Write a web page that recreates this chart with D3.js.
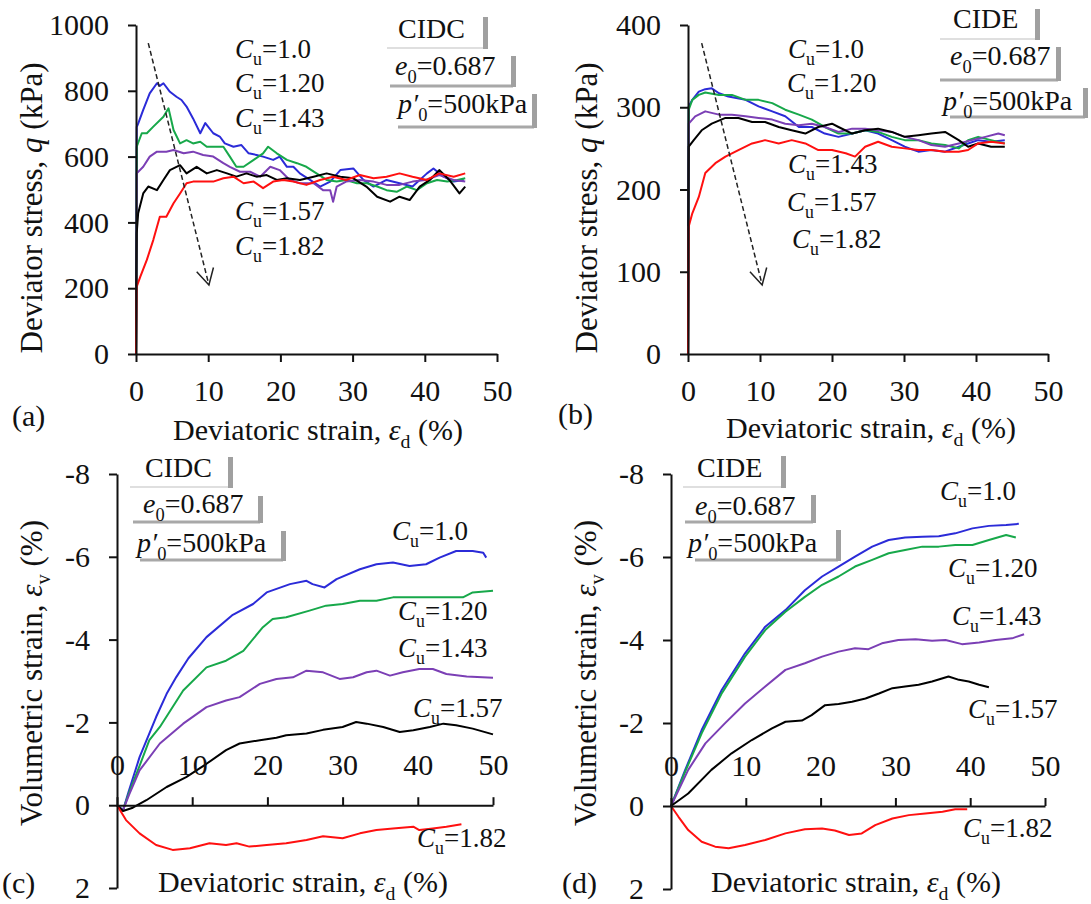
<!DOCTYPE html>
<html><head><meta charset="utf-8">
<script src="https://cdn.jsdelivr.net/npm/d3@7"></script>
<style>
body{margin:0;background:#fff}
svg{display:block}
</style>
</head><body>
<svg id="chart" width="1091" height="904" font-family="Liberation Serif, Times New Roman, DejaVu Serif, serif"></svg>
<script>
// ---------- DATA ----------
const seriesLabels = ["1.0","1.20","1.43","1.57","1.82"];
const seriesColors = ["#2b2bd8","#17a84a","#7b3fb5","#000000","#ff1010"];

// (a) CIDC deviator stress q (kPa) vs deviatoric strain (%)
const aCu100 = [[0,0],[0.05,400],[0.1,690],[0.3,700],[1,742],[1.9,792],[2.9,823],[3.3,815],[3.8,823],[4.7,797],[5.6,782],[6.3,772],[7,752],[7.9,716],[8.9,671],[9.6,702],[10.7,671],[11.6,661],[12.3,640],[13.5,630],[14.6,635],[15.6,610],[16.7,605],[17.6,600],[19,590],[19.9,600],[20.9,569],[21.8,569],[22.7,549],[24.1,529],[25.5,509],[26.9,524],[28.3,559],[30.1,564],[31.5,529],[32.9,509],[34.7,529],[36.5,519],[38.3,509],[40.3,549],[41.2,564],[42.6,539],[44,524],[45.4,529]];
const aCu120 = [[0,0],[0.05,350],[0.1,630],[0.8,671],[1.5,671],[2.4,691],[3.8,721],[4.5,747],[5.2,681],[6.1,640],[7,650],[7.9,640],[8.9,645],[9.8,630],[11.2,630],[12.1,630],[13,600],[13.9,569],[14.9,569],[16.3,590],[17.6,610],[18.3,630],[19.5,610],[20.9,590],[22.3,580],[23.6,569],[25,549],[26.4,529],[27.8,524],[29.1,529],[30.6,519],[32,519],[33.4,509],[34.7,498],[36.1,493],[37.5,509],[38.9,498],[40.3,519],[41.7,529],[43.1,524],[44.5,529],[45.6,534]];
const aCu143 = [[0,0],[0.05,300],[0.1,549],[1,569],[1.9,600],[2.9,615],[4.2,615],[5.2,620],[6.6,610],[7.9,615],[9.3,605],[10.7,600],[12.1,580],[13,569],[14.4,554],[15.8,554],[17.2,539],[18.6,569],[19.9,559],[21.3,529],[22.7,519],[24.6,519],[25.9,498],[26.9,498],[27.3,463],[27.8,509],[29.1,524],[31,529],[32.9,524],[34.7,514],[36.5,514],[38.3,524],[40.1,529],[42,544],[44,529],[45.6,524]];
const aCu157 = [[0,0],[0.05,250],[0.1,367],[0.3,428],[1,488],[1.7,509],[2.9,498],[3.8,529],[4.7,559],[6.1,574],[7,549],[8.4,569],[9.8,549],[11.2,559],[12.6,549],[13.9,539],[15.3,549],[16.7,539],[18.1,544],[19.5,529],[20.9,534],[22.7,529],[24.6,539],[26.4,549],[28.3,539],[30.1,534],[31.9,509],[33.4,478],[35.2,463],[36.5,478],[37.9,468],[39.3,509],[40.7,529],[42,559],[43.4,529],[44.8,488],[45.6,509]];
const aCu182 = [[0,0],[0.1,205],[0.6,235],[1.5,286],[2.4,347],[3.3,417],[4.2,417],[5.2,458],[6.1,488],[7,519],[7.9,524],[9.3,524],[10.7,524],[12.1,534],[13.5,539],[14.9,519],[16.3,524],[17.6,504],[19,524],[20.4,529],[21.8,524],[23.6,514],[25.5,529],[27.3,539],[29.1,529],[31,544],[32.9,534],[34.7,539],[36.5,549],[38.3,539],[40.3,529],[42,549],[44,539],[45.6,549]];

// (b) CIDE deviator stress
const bCu100 = [[0,0],[0.05,200],[0.1,301],[0.6,309],[1.5,319],[2.4,322],[3.3,323],[4.3,317],[5.6,313],[8,309],[9.8,301],[11.7,295],[13.5,289],[15.4,276],[17.2,276],[19,268],[20.9,264],[22.8,268],[24.6,272],[26.4,268],[28.3,260],[30.1,252],[32,246],[33.8,248],[35.7,246],[37.6,252],[38.9,256],[40.3,260],[42.1,258],[44,260]];
const bCu120 = [[0,0],[0.05,200],[0.1,297],[0.6,309],[1.5,315],[2.4,318],[4.3,315],[6.1,315],[8,309],[9.8,309],[11.7,305],[13.5,297],[15.4,291],[17.2,285],[19,276],[20.9,268],[22.8,268],[24.6,272],[26.4,270],[28.3,264],[30.1,260],[32,260],[33.8,256],[35.7,254],[37.6,250],[38.9,260],[40.3,264],[42.1,260],[44,256]];
const bCu143 = [[0,0],[0.05,190],[0.1,280],[1,289],[2.4,295],[4.3,291],[6.1,291],[8,289],[9.8,287],[11.7,285],[13.5,280],[15.4,278],[17.2,280],[19,276],[20.9,270],[22.8,274],[24.6,274],[26.4,272],[28.3,270],[30.1,264],[32,260],[33.8,254],[35.7,252],[37.6,256],[39.4,260],[41.3,264],[43.1,268],[44,266]];
const bCu157 = [[0,0],[0.05,170],[0.1,252],[0.8,260],[1.9,272],[3.3,280],[5.2,287],[7,287],[8.9,282],[10.7,282],[12.6,276],[14.4,272],[16.3,268],[18.1,276],[20,280],[20.9,276],[22.8,268],[24.6,272],[26.4,274],[28.3,270],[30.1,264],[32,266],[33.8,268],[35.7,270],[37.6,260],[38.9,252],[40.3,256],[42.1,252],[44,252]];
const bCu182 = [[0,0],[0.1,155],[0.6,171],[1.5,191],[2.4,220],[3.8,232],[5.2,240],[7,248],[8.9,256],[10.7,260],[12.6,256],[14.4,260],[16.3,256],[18.1,248],[20,248],[21.9,244],[23.2,240],[24.6,252],[26.4,258],[28.3,252],[30.1,250],[32,248],[33.8,248],[35.7,246],[37.6,246],[38.9,248],[40.3,256],[42.1,258],[44,256]];

// (c) CIDC volumetric strain (%)
const cCu100 = [[0,0],[0.8,0.12],[1.5,-0.3],[3,-1.16],[5.2,-2.13],[6.6,-2.69],[7.9,-3.1],[9.5,-3.55],[11.9,-4.06],[15.4,-4.6],[18.1,-4.86],[19.9,-5.14],[23,-5.34],[25.2,-5.42],[26,-5.34],[27.6,-5.26],[29.2,-5.46],[32.3,-5.7],[34.5,-5.82],[36.7,-5.86],[38.9,-5.78],[41.1,-5.82],[42.9,-5.98],[45.1,-6.14],[47.3,-6.14],[48.7,-6.1],[49.1,-5.98]];
const cCu120 = [[0,0],[0.8,0.12],[1.6,-0.3],[3,-0.95],[4.3,-1.57],[5.7,-1.89],[8.8,-2.77],[11.9,-3.33],[14.5,-3.49],[16.8,-3.73],[19.4,-4.3],[20.7,-4.5],[22.5,-4.54],[25.6,-4.7],[27.8,-4.82],[30,-4.86],[32.3,-4.94],[34.5,-4.94],[36.7,-5.02],[38.9,-5.02],[41.1,-5.02],[43.4,-5.02],[46,-5.02],[47.3,-5.14],[50,-5.18]];
const cCu143 = [[0,0],[0.8,0.12],[1.6,-0.25],[3,-0.84],[5.7,-1.49],[8.8,-1.97],[11.9,-2.37],[14.5,-2.53],[16.3,-2.61],[19,-2.93],[21.2,-3.05],[23.4,-3.09],[25.2,-3.25],[27.4,-3.21],[29.6,-3.05],[31.4,-3.09],[33.2,-3.21],[34.5,-3.25],[36.3,-3.13],[38,-3.21],[40.2,-3.29],[42,-3.29],[43.8,-3.17],[46.5,-3.11],[50,-3.08]];
const cCu157 = [[0,0],[0.8,0.14],[2.1,0.06],[3.9,-0.12],[6.6,-0.44],[9.2,-0.68],[11.9,-1],[14.5,-1.33],[16.3,-1.49],[19,-1.57],[21.2,-1.63],[22.5,-1.69],[25.2,-1.73],[27.4,-1.82],[30,-1.89],[31.8,-2.01],[33.2,-1.97],[35.4,-1.89],[37.6,-1.77],[39.4,-1.81],[41.6,-1.89],[43.4,-1.97],[45.1,-1.93],[47.3,-1.85],[50,-1.71]];
const cCu182 = [[0,0],[1.2,0.36],[3,0.68],[5.2,0.96],[7.4,1.08],[9.7,1.04],[12.3,0.92],[14.5,0.96],[15.9,0.92],[17.6,1],[19.9,0.96],[22.5,0.92],[25.2,0.84],[27.4,0.75],[30,0.8],[32.3,0.68],[34.5,0.6],[36.7,0.56],[39.4,0.52],[40.2,0.6],[42,0.56],[43.8,0.52],[45.8,0.46]];

// (d) CIDE volumetric strain (%)
const dCu100 = [[0,0],[1.9,-0.87],[4.1,-1.83],[6.8,-2.8],[9.9,-3.68],[12.6,-4.32],[15.3,-4.72],[17.9,-5.2],[20.2,-5.53],[22.4,-5.77],[24.6,-6.01],[26.9,-6.25],[29.1,-6.41],[31.3,-6.47],[33.6,-6.49],[35.8,-6.5],[38,-6.57],[40.3,-6.69],[42.5,-6.75],[44.8,-6.77],[46.5,-6.8]];
const dCu120 = [[0,0],[1.9,-0.83],[4.1,-1.75],[6.8,-2.72],[9.9,-3.6],[12.6,-4.24],[15.3,-4.68],[17.9,-5.04],[20.2,-5.33],[22.4,-5.53],[24.6,-5.77],[26.9,-5.93],[29.1,-6.09],[31.3,-6.17],[33.6,-6.25],[35.8,-6.25],[38,-6.29],[40.3,-6.29],[42.5,-6.41],[44.8,-6.53],[46.1,-6.47]];
const dCu143 = [[0,0],[2.3,-0.87],[4.6,-1.51],[7.2,-1.99],[9.9,-2.47],[12.6,-2.88],[15.3,-3.28],[17.9,-3.44],[20.2,-3.6],[22.4,-3.72],[24.6,-3.8],[26.4,-3.78],[28.2,-3.92],[30.4,-4],[32.7,-4.02],[34.9,-3.98],[36.7,-4],[38.9,-3.9],[41.2,-3.94],[43.4,-4],[45.6,-4.04],[47.2,-4.14]];
const dCu157 = [[0,0],[2.3,-0.3],[5.4,-0.87],[8.1,-1.27],[10.8,-1.59],[13.5,-1.87],[15.3,-2.03],[17.5,-2.06],[18.8,-2.19],[20.6,-2.43],[22.4,-2.46],[24.2,-2.51],[26,-2.59],[27.8,-2.71],[29.6,-2.84],[31.3,-2.88],[33.1,-2.92],[34.9,-3],[37.1,-3.12],[38.5,-3.04],[39.8,-3],[41.2,-2.92],[42.5,-2.86]];
const dCu182 = [[0,0],[1,0.26],[2.3,0.58],[4.1,0.86],[5.9,0.98],[7.7,1.02],[9.9,0.94],[12.6,0.82],[15.3,0.66],[17.9,0.56],[20.2,0.54],[21.9,0.59],[23.8,0.7],[25.5,0.66],[27.3,0.46],[29.6,0.3],[31.8,0.22],[34,0.18],[36.3,0.14],[38,0.08],[39.6,0.08]];

// tick values
const xTicks = [0,10,20,30,40,50];
const qTicksA = [0,200,400,600,800,1000];
const qTicksB = [0,100,200,300,400];
const evTicks = [-8,-6,-4,-2,0,2];
// arrows (data coords: from -> to)
const arrowA = [[1.7,945],[10.1,210]];
const arrowB = [[1.9,378],[10.3,84]];

// ---------- DRAW ----------
const FONT = "Liberation Serif, Times New Roman, DejaVu Serif, serif";
const svg = d3.select("#chart");
const FS = 30;      // ticks, x titles
const FS_YT = 31;   // y titles
const FS_CU = 27;   // C_u labels
const FS_BOX = 28;  // info boxes

function T(sel) { return sel.append("text").attr("font-family", FONT).attr("fill", "#111"); }
function rich(sel, parts, fs) {
  let shift = 0;
  parts.forEach(p => {
    const ts = sel.append("tspan").text(p.t);
    if (p.i) ts.attr("font-style","italic");
    const want = p.s ? fs*0.27 : 0;
    if (want !== shift) { ts.attr("dy", want - shift); shift = want; }
    if (p.s) ts.attr("font-size", fs*0.66);
  });
}
function cuLabel(x, y, val) {
  const t = T(svg).attr("x",x).attr("y",y).attr("font-size",FS_CU);
  rich(t, [{t:"C",i:true},{t:"u",s:true},{t:"="+val}], FS_CU);
}
function infoBoxes(items) {
  items.forEach(b => {
    svg.append("line").attr("x1",b.bl).attr("x2",b.r).attr("y1",b.bot).attr("y2",b.bot)
      .attr("stroke", b.light ? "#d4d4d4" : "#a8a8a8").attr("stroke-width", b.light ? 1.5 : 3);
    svg.append("rect").attr("x",b.r-2).attr("y",b.top).attr("width",5).attr("height",b.bot-b.top+1)
      .attr("fill","#a0a0a0");
    const t = T(svg).attr("x",b.tx).attr("y",b.ty).attr("font-size",FS_BOX);
    rich(t, b.parts, FS_BOX);
  });
}
function boxesAt(kind, pos) {
  return [
    {parts:[{t:kind}], tx:pos[0][0], ty:pos[0][1], bl:pos[0][2], r:pos[0][3], top:pos[0][4], bot:pos[0][5], light:true},
    {parts:[{t:"e",i:true},{t:"0",s:true},{t:"=0.687"}], tx:pos[1][0], ty:pos[1][1], bl:pos[1][2], r:pos[1][3], top:pos[1][4], bot:pos[1][5]},
    {parts:[{t:"p′",i:true},{t:"0",s:true},{t:"=500kPa"}], tx:pos[2][0], ty:pos[2][1], bl:pos[2][2], r:pos[2][3], top:pos[2][4], bot:pos[2][5]}
  ];
}

function panel(cfg) {
  const x = d3.scaleLinear().domain([0,50]).range(cfg.xr);
  const y = d3.scaleLinear().domain(cfg.yd).range(cfg.yr);
  const g = svg.append("g");
  const line = d3.line().x(d => x(d[0])).y(d => y(d[1]));
  cfg.series.forEach((s,i) => {
    g.append("path").datum(s).attr("d", line).attr("fill","none")
      .attr("stroke", seriesColors[i]).attr("stroke-width", 2).attr("stroke-linejoin","round");
  });
  const ya = g.append("g").attr("transform",`translate(${cfg.xr[0]},0)`)
    .call(d3.axisLeft(y).tickValues(cfg.yt).tickSize(8).tickSizeOuter(0).tickPadding(19).tickFormat(d => d < 0 ? "-" + Math.abs(d) : String(d)));
  let xa;
  if (cfg.vol) {
    xa = g.append("g").attr("transform",`translate(0,${y(0)})`)
      .call(d3.axisTop(x).tickValues(xTicks).tickSize(8).tickSizeOuter(0).tickPadding(22));
  } else {
    xa = g.append("g").attr("transform",`translate(0,${cfg.yr[0]})`)
      .call(d3.axisBottom(x).tickValues(xTicks).tickSize(8).tickSizeOuter(0).tickPadding(18));
  }
  [ya, xa].forEach(a => {
    a.attr("font-family", FONT).attr("font-size", FS);
    a.selectAll("path,line").attr("stroke","#111").attr("stroke-width",2);
    a.selectAll("text").attr("font-size",FS).attr("fill","#111").attr("font-family", FONT);
  });
  if (cfg.arrow) {
    const [p0,p1] = cfg.arrow.map(p => [x(p[0]), y(p[1])]);
    g.append("line").attr("x1",p0[0]).attr("y1",p0[1]).attr("x2",p1[0]).attr("y2",p1[1])
      .attr("stroke","#222").attr("stroke-width",1.5).attr("stroke-dasharray","5,3");
    const ang = Math.atan2(p1[1]-p0[1], p1[0]-p0[0]);
    const L = 18, spread = 0.5;
    const h = [ang+Math.PI-spread, ang+Math.PI+spread].map(a => [p1[0]+L*Math.cos(a), p1[1]+L*Math.sin(a)]);
    g.append("path").attr("d",`M${h[0][0]},${h[0][1]}L${p1[0]},${p1[1]}L${h[1][0]},${h[1][1]}`)
      .attr("fill","none").attr("stroke","#222").attr("stroke-width",1.5);
  }
  const xt = T(svg).attr("x",cfg.xtitle[0]).attr("y",cfg.xtitle[1]).attr("font-size",FS).attr("text-anchor","middle");
  rich(xt, [{t:"Deviatoric strain, "},{t:"ε",i:true},{t:"d",s:true},{t:cfg.vol?"  (%)":" (%)"}], FS);
  const yt = T(svg).attr("transform",`translate(${cfg.ytitle[0]},${cfg.ytitle[1]}) rotate(-90)`)
    .attr("font-size",FS_YT).attr("text-anchor","middle");
  if (cfg.vol) rich(yt, [{t:"Volumetric strain, "},{t:"ε",i:true},{t:"v",s:true},{t:"  (%)"}], FS_YT);
  else rich(yt, [{t:"Deviator stress, "},{t:"q",i:true},{t:" (kPa)"}], FS_YT);
  T(svg).attr("x",cfg.tag[0]).attr("y",cfg.tag[1]).attr("font-size",FS).text(cfg.tag[2]);
}

panel({xr:[136,497], yd:[0,1000], yr:[354,25], yt:qTicksA, series:[aCu100,aCu120,aCu143,aCu157,aCu182],
  arrow:arrowA, xtitle:[318,440], ytitle:[42,208], tag:[12,426,"(a)"]});
panel({xr:[688,1048], yd:[0,400], yr:[354,25], yt:qTicksB, series:[bCu100,bCu120,bCu143,bCu157,bCu182],
  arrow:arrowB, xtitle:[871,438], ytitle:[597,208], tag:[558,424,"(b)"]});
panel({xr:[117,493], yd:[-8,2], yr:[474,888], yt:evTicks, series:[cCu100,cCu120,cCu143,cCu157,cCu182],
  vol:true, xtitle:[303,892], ytitle:[42,673], tag:[2,893,"(c)"]});
panel({xr:[671,1045], yd:[-8,2], yr:[474,889], yt:evTicks, series:[dCu100,dCu120,dCu143,dCu157,dCu182],
  vol:true, xtitle:[856,892], ytitle:[596,673], tag:[562,893,"(d)"]});

[[235,58],[235,92],[235,127],[235,220],[235,255]].forEach((p,i)=>cuLabel(p[0],p[1],seriesLabels[i]));
[[788,58],[787,92],[788,173],[787,211],[792,248]].forEach((p,i)=>cuLabel(p[0],p[1],seriesLabels[i]));
[[392,540],[398,620],[398,657],[413,717],[417,847]].forEach((p,i)=>cuLabel(p[0],p[1],seriesLabels[i]));
[[940,500],[948,577],[952,625],[968,718],[963,837]].forEach((p,i)=>cuLabel(p[0],p[1],seriesLabels[i]));

infoBoxes(boxesAt("CIDC", [[398,38,387,485,17,48],[395,75,390,513,56,86],[398,113,398,534,94,127]]));
infoBoxes(boxesAt("CIDE", [[953,28,940,1037,9,39],[950,65,940,1058,47,80],[943,110,950,1085,88,117]]));
infoBoxes(boxesAt("CIDC", [[145,477,130,230,457,487],[143,513,133,260,496,522],[137,552,140,283,531,560]]));
infoBoxes(boxesAt("CIDE", [[697,477,683,783,456,487],[695,515,685,813,495,522],[688,552,695,838,530,560]]));
</script>
</body></html>
